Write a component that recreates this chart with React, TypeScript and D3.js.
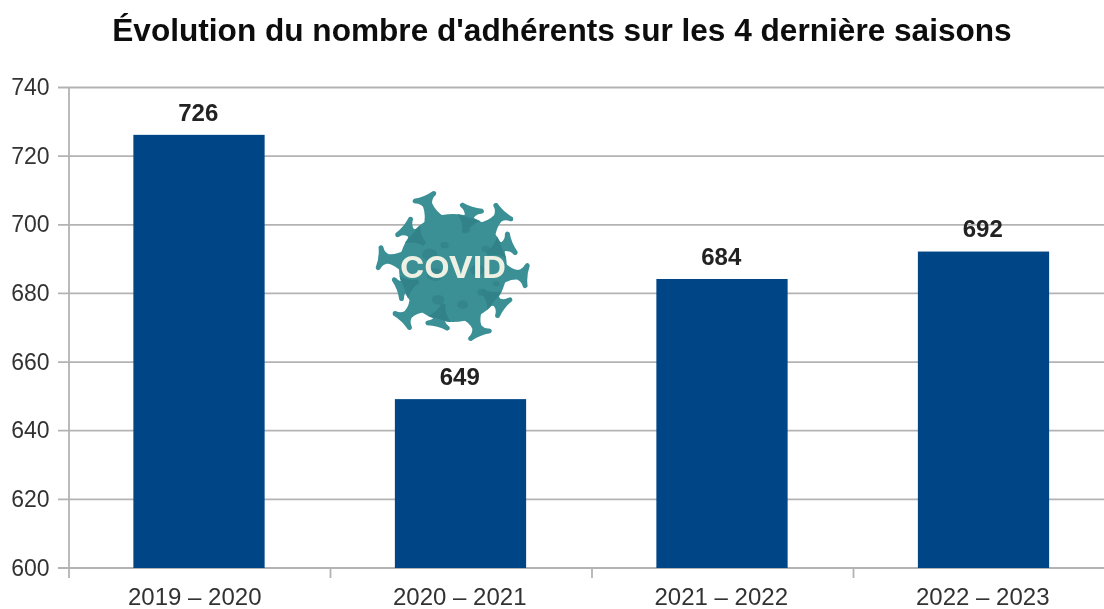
import React from "react";
import * as d3 from "d3";

const seasons = ["2019 – 2020", "2020 – 2021", "2021 – 2022", "2022 – 2023"];
const members = [726, 649, 684, 692];
const yTicks = [600, 620, 640, 660, 680, 700, 720, 740];
const title = "Évolution du nombre d'adhérents sur les 4 dernière saisons";
const virusLabel = "COVID";
// spike direction (degrees, clockwise from north) and length relative to body radius
const spikeAngles = [-22, 17.5, 42, 67, 96, 128, 158, 195, 224, 249, 278, 310];
const spikeLengths = [1.42, 1.17, 1.4, 1.18, 1.37, 1.2, 1.34, 1.11, 1.36, 1.1, 1.38, 1.19];
// dark blotches on the body: angle, relative distance, relative size
const blotchAngles = [20, 60, 95, 130, 165, 205, 250, 300, 340, 110];
const blotchDist = [0.75, 0.7, 0.45, 0.7, 0.7, 0.65, 0.35, 0.5, 0.45, 0.85];
const blotchSize = [0.05, 0.06, 0.1, 0.07, 0.08, 0.09, 0.12, 0.11, 0.06, 0.05];

const W = 1104, H = 609;
const left = 69, right = 1115, top = 87.5, bottom = 568;
const GRID = "#b3b3b3";
const FONT = "'Liberation Sans', Arial, sans-serif";

const x = d3.scaleBand<string>().domain(seasons).range([left, right]).paddingInner(0.5).paddingOuter(0.25);
const y = d3.scaleLinear().domain([600, 740]).range([bottom, top]);
const slots = d3.scaleBand<string>().domain(seasons).range([left, right]);

function Virus({ cx, cy, r }: { cx: number; cy: number; r: number }) {
  const teal = "#3b9096", dark = "#338389";
  const rad = (d: number) => (d * Math.PI) / 180;
  // one spike: wide foot, narrow neck, flared head with a slightly hollow top
  const spike = (base: number, l: number) => {
    const n = l - r * 0.16;
    return `M${-r * 0.2},${-base}Q${-r * 0.07},${-(base + n) / 2} ${-r * 0.065},${-n}` +
      `Q${-r * 0.1},${-l + r * 0.06} ${-r * 0.19},${-l + r * 0.03}Q${-r * 0.23},${-l + r * 0.01} ${-r * 0.19},${-l - r * 0.015}` +
      `Q0,${-l + r * 0.03} ${r * 0.19},${-l - r * 0.015}Q${r * 0.23},${-l + r * 0.01} ${r * 0.19},${-l + r * 0.03}` +
      `Q${r * 0.1},${-l + r * 0.06} ${r * 0.065},${-n}Q${r * 0.07},${-(base + n) / 2} ${r * 0.2},${-base}Z`;
  };
  return (
    <g>
      {spikeAngles.map((a, i) => (
        <path key={i} transform={`translate(${cx},${cy}) rotate(${a})`} d={spike(r * 0.9, r * spikeLengths[i])} fill={teal} stroke={teal} strokeWidth={2.6} strokeLinejoin="round" />
      ))}
      <circle cx={cx} cy={cy} r={r} fill={teal} />
      {blotchAngles.map((a, i) => (
        <ellipse key={"b" + i} cx={cx + Math.sin(rad(a)) * r * blotchDist[i]} cy={cy - Math.cos(rad(a)) * r * blotchDist[i]} rx={r * blotchSize[i] * 1.3} ry={r * blotchSize[i]} fill={dark} opacity={0.8} />
      ))}
      {spikeAngles.map((a, i) => {
        if (spikeLengths[i] >= 1.25) return null;
        return (
          <g key={"i" + i} transform={`translate(${cx},${cy}) rotate(${a})`}>
            <path d={`M${-r * 0.04},${-r * 0.68}Q${-r * 0.06},${-r * 0.85} ${-r * 0.22},${-r * 0.98}L${r * 0.22},${-r * 0.98}Q${r * 0.06},${-r * 0.85} ${r * 0.04},${-r * 0.68}Z`} fill={dark} />
          </g>
        );
      })}
      <text x={cx} y={cy + 9.5} textAnchor="middle" textLength={106} lengthAdjust="spacingAndGlyphs" fontFamily="Inter, 'Open Sans', sans-serif" fontWeight={700} fontSize={30} fill="#eef0e4">{virusLabel}</text>
    </g>
  );
}

export default function App() {
  return (
    <svg width={W} height={H} viewBox={`0 0 ${W} ${H}`} style={{ position: "absolute", left: 0, top: 0, background: "#fff" }} fontFamily={FONT}>
      <defs>
        <filter id="soft" x="-5%" y="-5%" width="110%" height="110%"><feGaussianBlur stdDeviation="0.55" /></filter>
      </defs>
      <g filter="url(#soft)">
        <text x={562} y={41} textAnchor="middle" fontSize={31.6} fontWeight={700} fill="#111">{title}</text>

        {yTicks.map((t) => (
          <g key={t}>
            <line x1={58} x2={W} y1={y(t)} y2={y(t)} stroke={GRID} strokeWidth={1.8} />
            <text x={49.5} y={y(t) + 7.5} textAnchor="end" fontSize={23} fill="#333">{t}</text>
          </g>
        ))}
        <line x1={left} x2={left} y1={top} y2={bottom + 10} stroke={GRID} strokeWidth={1.8} />
        {seasons.map((s) => (
          <line key={s} x1={(slots(s) ?? 0) + slots.bandwidth()} x2={(slots(s) ?? 0) + slots.bandwidth()} y1={bottom} y2={bottom + 10} stroke={GRID} strokeWidth={1.8} />
        ))}

        <g transform="translate(-1,0)">
          {seasons.map((s, i) => (
            <rect key={s} x={x(s)} y={y(members[i]) - 0.7} width={x.bandwidth() + 0.5} height={bottom - y(members[i]) + 0.7} fill="#004586" />
          ))}
        </g>
        {seasons.map((s, i) => (
          <text key={s} x={(x(s) ?? 0) + x.bandwidth() / 2 - 1.5} y={y(members[i]) - 15} textAnchor="middle" fontSize={24} fontWeight={700} fill="#222">{members[i]}</text>
        ))}
        {seasons.map((s, i) => (
          <text key={s} x={(slots(s) ?? 0) + slots.bandwidth() / 2 + (i === 0 ? -5 : -1.5)} y={605} textAnchor="middle" fontSize={24} fill="#333">{s}</text>
        ))}

        <Virus cx={453} cy={268} r={54} />
      </g>
    </svg>
  );
}
